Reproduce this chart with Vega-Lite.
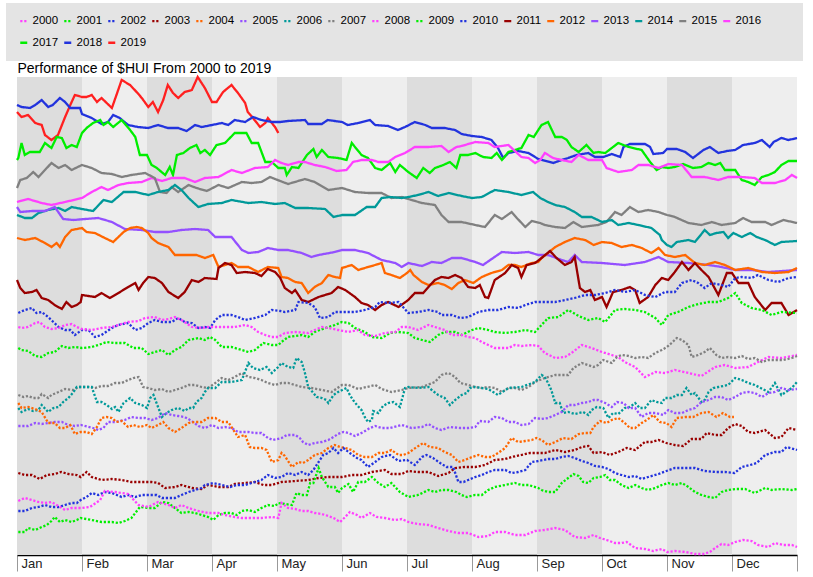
{
"$schema":"https://vega.github.io/schema/vega-lite/v6.json",
"width":780,"height":478,
"autosize":{"type":"none"},
"padding":{"left":17,"top":77,"right":16,"bottom":22},
"background":"white",
"config":{"font":"Liberation Sans","view":{"fill":"#eeeeee","stroke":null}},
"resolve":{"axis":{"x":"independent"}},
"layer":[
{"data":{"values":[{"a":0,"b":1},{"a":2,"b":3},{"a":4,"b":5},{"a":6,"b":7},{"a":8,"b":9},{"a":10,"b":11}]},
"mark":{"type":"rect","fill":"#dddddd"},
"encoding":{"x":{"field":"a","type":"quantitative","scale":{"domain":[0,12],"nice":false,"zero":false},
"axis":{"orient":"top","title":"Performance of $HUI From 2000 to 2019","labels":false,"ticks":false,"domain":false,"grid":false,"titleAnchor":"start","titleAlign":"left","titleBaseline":"alphabetic","titleFontSize":14,"titleFontWeight":"normal","titleColor":"#000000","titleFont":"Liberation Sans","titlePadding":5}},
"x2":{"field":"b"}}},
{"data":{"values":[
{"s":2019,"m":0,"v":443},{"s":2019,"m":0.07,"v":438},{"s":2019,"m":0.17,"v":440},{"s":2019,"m":0.28,"v":432},{"s":2019,"m":0.38,"v":430},{"s":2019,"m":0.43,"v":420},{"s":2019,"m":0.53,"v":415},{"s":2019,"m":0.63,"v":420},{"s":2019,"m":0.74,"v":438},{"s":2019,"m":0.82,"v":450},{"s":2019,"m":0.89,"v":460},{"s":2019,"m":1.0,"v":458},{"s":2019,"m":1.07,"v":458},{"s":2019,"m":1.15,"v":460},{"s":2019,"m":1.23,"v":453},{"s":2019,"m":1.3,"v":457},{"s":2019,"m":1.46,"v":447},{"s":2019,"m":1.53,"v":460},{"s":2019,"m":1.61,"v":475},{"s":2019,"m":1.74,"v":470},{"s":2019,"m":1.84,"v":463},{"s":2019,"m":1.92,"v":457},{"s":2019,"m":2.02,"v":448},{"s":2019,"m":2.09,"v":453},{"s":2019,"m":2.17,"v":443},{"s":2019,"m":2.25,"v":455},{"s":2019,"m":2.32,"v":470},{"s":2019,"m":2.4,"v":462},{"s":2019,"m":2.48,"v":457},{"s":2019,"m":2.58,"v":463},{"s":2019,"m":2.69,"v":465},{"s":2019,"m":2.78,"v":478},{"s":2019,"m":2.89,"v":467},{"s":2019,"m":3.0,"v":453},{"s":2019,"m":3.07,"v":453},{"s":2019,"m":3.17,"v":463},{"s":2019,"m":3.3,"v":470},{"s":2019,"m":3.4,"v":462},{"s":2019,"m":3.51,"v":452},{"s":2019,"m":3.55,"v":443},{"s":2019,"m":3.63,"v":437},{"s":2019,"m":3.74,"v":428},{"s":2019,"m":3.82,"v":432},{"s":2019,"m":3.86,"v":437},{"s":2019,"m":3.92,"v":432},{"s":2019,"m":3.97,"v":428},{"s":2019,"m":4.02,"v":422},
{"s":2018,"m":0,"v":450},{"s":2018,"m":0.07,"v":448},{"s":2018,"m":0.2,"v":447},{"s":2018,"m":0.28,"v":450},{"s":2018,"m":0.38,"v":455},{"s":2018,"m":0.48,"v":448},{"s":2018,"m":0.55,"v":450},{"s":2018,"m":0.66,"v":457},{"s":2018,"m":0.74,"v":453},{"s":2018,"m":0.82,"v":447},{"s":2018,"m":0.97,"v":447},{"s":2018,"m":1.0,"v":441},{"s":2018,"m":1.15,"v":437},{"s":2018,"m":1.3,"v":431},{"s":2018,"m":1.4,"v":433},{"s":2018,"m":1.48,"v":440},{"s":2018,"m":1.58,"v":437},{"s":2018,"m":1.71,"v":430},{"s":2018,"m":1.86,"v":428},{"s":2018,"m":2.02,"v":427},{"s":2018,"m":2.17,"v":430},{"s":2018,"m":2.32,"v":427},{"s":2018,"m":2.48,"v":427},{"s":2018,"m":2.61,"v":424},{"s":2018,"m":2.74,"v":430},{"s":2018,"m":2.84,"v":428},{"s":2018,"m":3.0,"v":430},{"s":2018,"m":3.15,"v":432},{"s":2018,"m":3.25,"v":430},{"s":2018,"m":3.35,"v":435},{"s":2018,"m":3.51,"v":433},{"s":2018,"m":3.63,"v":438},{"s":2018,"m":3.76,"v":435},{"s":2018,"m":3.92,"v":433},{"s":2018,"m":4.05,"v":433},{"s":2018,"m":4.17,"v":434},{"s":2018,"m":4.43,"v":435},{"s":2018,"m":4.48,"v":431},{"s":2018,"m":4.69,"v":431},{"s":2018,"m":4.78,"v":435},{"s":2018,"m":5.0,"v":433},{"s":2018,"m":5.09,"v":430},{"s":2018,"m":5.25,"v":432},{"s":2018,"m":5.43,"v":435},{"s":2018,"m":5.51,"v":430},{"s":2018,"m":5.71,"v":429},{"s":2018,"m":5.86,"v":425},{"s":2018,"m":5.97,"v":428},{"s":2018,"m":6.12,"v":433},{"s":2018,"m":6.28,"v":430},{"s":2018,"m":6.38,"v":427},{"s":2018,"m":6.58,"v":427},{"s":2018,"m":6.74,"v":425},{"s":2018,"m":6.84,"v":421},{"s":2018,"m":7.0,"v":419},{"s":2018,"m":7.15,"v":418},{"s":2018,"m":7.3,"v":415},{"s":2018,"m":7.4,"v":407},{"s":2018,"m":7.48,"v":397},{"s":2018,"m":7.56,"v":402},{"s":2018,"m":7.71,"v":404},{"s":2018,"m":7.87,"v":402},{"s":2018,"m":8.02,"v":396},{"s":2018,"m":8.25,"v":392},{"s":2018,"m":8.38,"v":395},{"s":2018,"m":8.48,"v":397},{"s":2018,"m":8.61,"v":400},{"s":2018,"m":8.79,"v":402},{"s":2018,"m":8.89,"v":398},{"s":2018,"m":9.02,"v":398},{"s":2018,"m":9.15,"v":401},{"s":2018,"m":9.28,"v":398},{"s":2018,"m":9.33,"v":408},{"s":2018,"m":9.43,"v":411},{"s":2018,"m":9.66,"v":411},{"s":2018,"m":9.74,"v":408},{"s":2018,"m":9.79,"v":401},{"s":2018,"m":9.94,"v":402},{"s":2018,"m":10.0,"v":406},{"s":2018,"m":10.15,"v":406},{"s":2018,"m":10.28,"v":403},{"s":2018,"m":10.4,"v":397},{"s":2018,"m":10.56,"v":405},{"s":2018,"m":10.66,"v":408},{"s":2018,"m":10.79,"v":402},{"s":2018,"m":10.92,"v":404},{"s":2018,"m":11.05,"v":405},{"s":2018,"m":11.17,"v":410},{"s":2018,"m":11.35,"v":412},{"s":2018,"m":11.46,"v":415},{"s":2018,"m":11.58,"v":408},{"s":2018,"m":11.64,"v":413},{"s":2018,"m":11.76,"v":417},{"s":2018,"m":11.87,"v":415},{"s":2018,"m":12.0,"v":417},
{"s":2017,"m":0,"v":395},{"s":2017,"m":0.02,"v":397},{"s":2017,"m":0.07,"v":412},{"s":2017,"m":0.12,"v":400},{"s":2017,"m":0.2,"v":403},{"s":2017,"m":0.35,"v":403},{"s":2017,"m":0.43,"v":412},{"s":2017,"m":0.53,"v":407},{"s":2017,"m":0.61,"v":418},{"s":2017,"m":0.69,"v":417},{"s":2017,"m":0.76,"v":407},{"s":2017,"m":0.84,"v":410},{"s":2017,"m":0.92,"v":408},{"s":2017,"m":1.0,"v":422},{"s":2017,"m":1.07,"v":427},{"s":2017,"m":1.17,"v":432},{"s":2017,"m":1.28,"v":435},{"s":2017,"m":1.33,"v":430},{"s":2017,"m":1.4,"v":433},{"s":2017,"m":1.48,"v":428},{"s":2017,"m":1.61,"v":435},{"s":2017,"m":1.74,"v":425},{"s":2017,"m":1.82,"v":418},{"s":2017,"m":1.89,"v":400},{"s":2017,"m":2.0,"v":400},{"s":2017,"m":2.07,"v":390},{"s":2017,"m":2.15,"v":387},{"s":2017,"m":2.28,"v":380},{"s":2017,"m":2.35,"v":388},{"s":2017,"m":2.4,"v":380},{"s":2017,"m":2.46,"v":400},{"s":2017,"m":2.56,"v":402},{"s":2017,"m":2.66,"v":407},{"s":2017,"m":2.76,"v":410},{"s":2017,"m":2.82,"v":402},{"s":2017,"m":2.89,"v":405},{"s":2017,"m":2.97,"v":400},{"s":2017,"m":3.07,"v":410},{"s":2017,"m":3.2,"v":412},{"s":2017,"m":3.35,"v":422},{"s":2017,"m":3.53,"v":422},{"s":2017,"m":3.61,"v":412},{"s":2017,"m":3.71,"v":412},{"s":2017,"m":3.82,"v":393},{"s":2017,"m":3.92,"v":393},{"s":2017,"m":4.02,"v":387},{"s":2017,"m":4.12,"v":387},{"s":2017,"m":4.15,"v":380},{"s":2017,"m":4.23,"v":388},{"s":2017,"m":4.33,"v":387},{"s":2017,"m":4.46,"v":400},{"s":2017,"m":4.56,"v":406},{"s":2017,"m":4.61,"v":398},{"s":2017,"m":4.69,"v":405},{"s":2017,"m":4.79,"v":398},{"s":2017,"m":4.94,"v":397},{"s":2017,"m":5.07,"v":395},{"s":2017,"m":5.15,"v":412},{"s":2017,"m":5.3,"v":400},{"s":2017,"m":5.4,"v":397},{"s":2017,"m":5.51,"v":387},{"s":2017,"m":5.61,"v":385},{"s":2017,"m":5.74,"v":392},{"s":2017,"m":5.82,"v":383},{"s":2017,"m":5.89,"v":390},{"s":2017,"m":6.02,"v":383},{"s":2017,"m":6.15,"v":377},{"s":2017,"m":6.25,"v":387},{"s":2017,"m":6.35,"v":382},{"s":2017,"m":6.43,"v":387},{"s":2017,"m":6.56,"v":390},{"s":2017,"m":6.66,"v":393},{"s":2017,"m":6.76,"v":387},{"s":2017,"m":6.82,"v":400},{"s":2017,"m":6.94,"v":400},{"s":2017,"m":7.05,"v":402},{"s":2017,"m":7.17,"v":398},{"s":2017,"m":7.3,"v":397},{"s":2017,"m":7.38,"v":402},{"s":2017,"m":7.46,"v":395},{"s":2017,"m":7.56,"v":403},{"s":2017,"m":7.76,"v":407},{"s":2017,"m":7.87,"v":420},{"s":2017,"m":7.95,"v":418},{"s":2017,"m":8.07,"v":430},{"s":2017,"m":8.17,"v":433},{"s":2017,"m":8.28,"v":418},{"s":2017,"m":8.38,"v":418},{"s":2017,"m":8.46,"v":415},{"s":2017,"m":8.53,"v":408},{"s":2017,"m":8.64,"v":403},{"s":2017,"m":8.76,"v":410},{"s":2017,"m":8.87,"v":402},{"s":2017,"m":8.94,"v":403},{"s":2017,"m":9.05,"v":402},{"s":2017,"m":9.25,"v":412},{"s":2017,"m":9.41,"v":408},{"s":2017,"m":9.61,"v":405},{"s":2017,"m":9.74,"v":393},{"s":2017,"m":9.84,"v":385},{"s":2017,"m":9.92,"v":388},{"s":2017,"m":10.02,"v":387},{"s":2017,"m":10.12,"v":388},{"s":2017,"m":10.25,"v":391},{"s":2017,"m":10.4,"v":387},{"s":2017,"m":10.53,"v":388},{"s":2017,"m":10.64,"v":392},{"s":2017,"m":10.74,"v":390},{"s":2017,"m":10.82,"v":392},{"s":2017,"m":10.89,"v":385},{"s":2017,"m":11.05,"v":385},{"s":2017,"m":11.15,"v":375},{"s":2017,"m":11.25,"v":373},{"s":2017,"m":11.35,"v":370},{"s":2017,"m":11.46,"v":378},{"s":2017,"m":11.56,"v":380},{"s":2017,"m":11.66,"v":383},{"s":2017,"m":11.76,"v":390},{"s":2017,"m":11.87,"v":394},{"s":2017,"m":12.0,"v":394},
{"s":2016,"m":0,"v":353},{"s":2016,"m":0.17,"v":356},{"s":2016,"m":0.38,"v":352},{"s":2016,"m":0.53,"v":350},{"s":2016,"m":0.74,"v":353},{"s":2016,"m":1.0,"v":357},{"s":2016,"m":1.15,"v":363},{"s":2016,"m":1.3,"v":368},{"s":2016,"m":1.4,"v":365},{"s":2016,"m":1.56,"v":370},{"s":2016,"m":1.71,"v":372},{"s":2016,"m":1.92,"v":373},{"s":2016,"m":2.07,"v":377},{"s":2016,"m":2.23,"v":374},{"s":2016,"m":2.38,"v":377},{"s":2016,"m":2.58,"v":377},{"s":2016,"m":2.74,"v":373},{"s":2016,"m":2.89,"v":377},{"s":2016,"m":3.1,"v":378},{"s":2016,"m":3.3,"v":385},{"s":2016,"m":3.46,"v":382},{"s":2016,"m":3.66,"v":387},{"s":2016,"m":3.86,"v":388},{"s":2016,"m":3.97,"v":395},{"s":2016,"m":4.07,"v":392},{"s":2016,"m":4.17,"v":390},{"s":2016,"m":4.33,"v":393},{"s":2016,"m":4.43,"v":393},{"s":2016,"m":4.58,"v":390},{"s":2016,"m":4.74,"v":388},{"s":2016,"m":4.92,"v":384},{"s":2016,"m":5.07,"v":385},{"s":2016,"m":5.17,"v":393},{"s":2016,"m":5.3,"v":395},{"s":2016,"m":5.46,"v":395},{"s":2016,"m":5.56,"v":393},{"s":2016,"m":5.71,"v":393},{"s":2016,"m":5.82,"v":398},{"s":2016,"m":5.97,"v":402},{"s":2016,"m":6.12,"v":408},{"s":2016,"m":6.33,"v":408},{"s":2016,"m":6.53,"v":409},{"s":2016,"m":6.64,"v":403},{"s":2016,"m":6.76,"v":408},{"s":2016,"m":6.84,"v":409},{"s":2016,"m":7.05,"v":413},{"s":2016,"m":7.25,"v":412},{"s":2016,"m":7.35,"v":408},{"s":2016,"m":7.56,"v":410},{"s":2016,"m":7.76,"v":398},{"s":2016,"m":7.87,"v":397},{"s":2016,"m":7.97,"v":392},{"s":2016,"m":8.05,"v":395},{"s":2016,"m":8.12,"v":402},{"s":2016,"m":8.25,"v":397},{"s":2016,"m":8.38,"v":395},{"s":2016,"m":8.53,"v":393},{"s":2016,"m":8.64,"v":400},{"s":2016,"m":8.79,"v":395},{"s":2016,"m":9.0,"v":395},{"s":2016,"m":9.07,"v":387},{"s":2016,"m":9.25,"v":383},{"s":2016,"m":9.46,"v":385},{"s":2016,"m":9.56,"v":390},{"s":2016,"m":9.71,"v":390},{"s":2016,"m":9.87,"v":387},{"s":2016,"m":10.02,"v":391},{"s":2016,"m":10.23,"v":390},{"s":2016,"m":10.38,"v":378},{"s":2016,"m":10.58,"v":378},{"s":2016,"m":10.79,"v":375},{"s":2016,"m":10.94,"v":378},{"s":2016,"m":11.15,"v":378},{"s":2016,"m":11.35,"v":377},{"s":2016,"m":11.46,"v":372},{"s":2016,"m":11.66,"v":372},{"s":2016,"m":11.82,"v":375},{"s":2016,"m":11.92,"v":380},{"s":2016,"m":12.0,"v":377},
{"s":2015,"m":0,"v":367},{"s":2015,"m":0.05,"v":375},{"s":2015,"m":0.15,"v":377},{"s":2015,"m":0.25,"v":383},{"s":2015,"m":0.33,"v":378},{"s":2015,"m":0.43,"v":385},{"s":2015,"m":0.53,"v":392},{"s":2015,"m":0.64,"v":387},{"s":2015,"m":0.74,"v":390},{"s":2015,"m":0.84,"v":385},{"s":2015,"m":1.0,"v":390},{"s":2015,"m":1.15,"v":387},{"s":2015,"m":1.3,"v":382},{"s":2015,"m":1.46,"v":381},{"s":2015,"m":1.61,"v":378},{"s":2015,"m":1.76,"v":380},{"s":2015,"m":1.97,"v":382},{"s":2015,"m":2.12,"v":377},{"s":2015,"m":2.2,"v":363},{"s":2015,"m":2.3,"v":362},{"s":2015,"m":2.38,"v":368},{"s":2015,"m":2.48,"v":363},{"s":2015,"m":2.64,"v":370},{"s":2015,"m":2.76,"v":367},{"s":2015,"m":2.92,"v":364},{"s":2015,"m":3.1,"v":370},{"s":2015,"m":3.25,"v":367},{"s":2015,"m":3.46,"v":373},{"s":2015,"m":3.61,"v":372},{"s":2015,"m":3.76,"v":373},{"s":2015,"m":3.89,"v":378},{"s":2015,"m":4.05,"v":374},{"s":2015,"m":4.17,"v":371},{"s":2015,"m":4.43,"v":376},{"s":2015,"m":4.58,"v":373},{"s":2015,"m":4.79,"v":365},{"s":2015,"m":5.0,"v":367},{"s":2015,"m":5.2,"v":363},{"s":2015,"m":5.4,"v":362},{"s":2015,"m":5.61,"v":362},{"s":2015,"m":5.76,"v":357},{"s":2015,"m":5.92,"v":358},{"s":2015,"m":6.07,"v":355},{"s":2015,"m":6.23,"v":352},{"s":2015,"m":6.43,"v":350},{"s":2015,"m":6.53,"v":340},{"s":2015,"m":6.64,"v":333},{"s":2015,"m":6.84,"v":333},{"s":2015,"m":7.05,"v":330},{"s":2015,"m":7.2,"v":328},{"s":2015,"m":7.35,"v":340},{"s":2015,"m":7.46,"v":336},{"s":2015,"m":7.61,"v":343},{"s":2015,"m":7.69,"v":337},{"s":2015,"m":7.82,"v":328},{"s":2015,"m":7.92,"v":334},{"s":2015,"m":8.05,"v":332},{"s":2015,"m":8.12,"v":330},{"s":2015,"m":8.28,"v":328},{"s":2015,"m":8.43,"v":327},{"s":2015,"m":8.56,"v":333},{"s":2015,"m":8.69,"v":328},{"s":2015,"m":8.94,"v":330},{"s":2015,"m":9.07,"v":333},{"s":2015,"m":9.2,"v":343},{"s":2015,"m":9.3,"v":340},{"s":2015,"m":9.43,"v":348},{"s":2015,"m":9.56,"v":343},{"s":2015,"m":9.71,"v":345},{"s":2015,"m":9.87,"v":343},{"s":2015,"m":10.0,"v":340},{"s":2015,"m":10.12,"v":338},{"s":2015,"m":10.33,"v":332},{"s":2015,"m":10.53,"v":330},{"s":2015,"m":10.69,"v":333},{"s":2015,"m":10.84,"v":330},{"s":2015,"m":11.05,"v":332},{"s":2015,"m":11.17,"v":337},{"s":2015,"m":11.3,"v":333},{"s":2015,"m":11.51,"v":333},{"s":2015,"m":11.61,"v":330},{"s":2015,"m":11.79,"v":335},{"s":2015,"m":12.0,"v":332},
{"s":2014,"m":0,"v":340},{"s":2014,"m":0.12,"v":337},{"s":2014,"m":0.23,"v":337},{"s":2014,"m":0.33,"v":342},{"s":2014,"m":0.48,"v":345},{"s":2014,"m":0.64,"v":347},{"s":2014,"m":0.74,"v":344},{"s":2014,"m":0.84,"v":348},{"s":2014,"m":1.0,"v":346},{"s":2014,"m":1.17,"v":344},{"s":2014,"m":1.33,"v":355},{"s":2014,"m":1.46,"v":353},{"s":2014,"m":1.64,"v":363},{"s":2014,"m":1.82,"v":363},{"s":2014,"m":2.02,"v":360},{"s":2014,"m":2.17,"v":363},{"s":2014,"m":2.33,"v":365},{"s":2014,"m":2.43,"v":370},{"s":2014,"m":2.53,"v":365},{"s":2014,"m":2.64,"v":357},{"s":2014,"m":2.79,"v":348},{"s":2014,"m":2.94,"v":351},{"s":2014,"m":3.15,"v":352},{"s":2014,"m":3.3,"v":355},{"s":2014,"m":3.56,"v":352},{"s":2014,"m":3.76,"v":353},{"s":2014,"m":3.97,"v":351},{"s":2014,"m":4.12,"v":352},{"s":2014,"m":4.28,"v":347},{"s":2014,"m":4.48,"v":347},{"s":2014,"m":4.74,"v":346},{"s":2014,"m":4.87,"v":338},{"s":2014,"m":5.0,"v":340},{"s":2014,"m":5.2,"v":340},{"s":2014,"m":5.38,"v":348},{"s":2014,"m":5.51,"v":348},{"s":2014,"m":5.61,"v":357},{"s":2014,"m":5.74,"v":358},{"s":2014,"m":5.92,"v":357},{"s":2014,"m":6.02,"v":358},{"s":2014,"m":6.17,"v":360},{"s":2014,"m":6.33,"v":363},{"s":2014,"m":6.48,"v":359},{"s":2014,"m":6.64,"v":362},{"s":2014,"m":6.84,"v":359},{"s":2014,"m":7.0,"v":357},{"s":2014,"m":7.15,"v":358},{"s":2014,"m":7.35,"v":365},{"s":2014,"m":7.56,"v":363},{"s":2014,"m":7.76,"v":360},{"s":2014,"m":7.94,"v":363},{"s":2014,"m":8.05,"v":357},{"s":2014,"m":8.17,"v":353},{"s":2014,"m":8.28,"v":350},{"s":2014,"m":8.43,"v":348},{"s":2014,"m":8.58,"v":343},{"s":2014,"m":8.69,"v":338},{"s":2014,"m":8.84,"v":338},{"s":2014,"m":9.0,"v":333},{"s":2014,"m":9.15,"v":335},{"s":2014,"m":9.25,"v":330},{"s":2014,"m":9.41,"v":332},{"s":2014,"m":9.56,"v":330},{"s":2014,"m":9.76,"v":327},{"s":2014,"m":9.89,"v":320},{"s":2014,"m":9.92,"v":315},{"s":2014,"m":10.0,"v":310},{"s":2014,"m":10.07,"v":308},{"s":2014,"m":10.15,"v":313},{"s":2014,"m":10.33,"v":315},{"s":2014,"m":10.43,"v":313},{"s":2014,"m":10.58,"v":325},{"s":2014,"m":10.66,"v":320},{"s":2014,"m":10.76,"v":322},{"s":2014,"m":10.87,"v":323},{"s":2014,"m":10.94,"v":317},{"s":2014,"m":11.02,"v":322},{"s":2014,"m":11.15,"v":318},{"s":2014,"m":11.28,"v":322},{"s":2014,"m":11.38,"v":318},{"s":2014,"m":11.51,"v":315},{"s":2014,"m":11.66,"v":310},{"s":2014,"m":11.76,"v":313},{"s":2014,"m":12.0,"v":314},
{"s":2013,"m":0,"v":348},{"s":2013,"m":0.05,"v":343},{"s":2013,"m":0.23,"v":344},{"s":2013,"m":0.43,"v":344},{"s":2013,"m":0.58,"v":348},{"s":2013,"m":0.71,"v":336},{"s":2013,"m":0.87,"v":335},{"s":2013,"m":1.05,"v":336},{"s":2013,"m":1.25,"v":337},{"s":2013,"m":1.46,"v":333},{"s":2013,"m":1.66,"v":326},{"s":2013,"m":1.92,"v":325},{"s":2013,"m":2.12,"v":323},{"s":2013,"m":2.33,"v":323},{"s":2013,"m":2.53,"v":325},{"s":2013,"m":2.74,"v":326},{"s":2013,"m":2.94,"v":325},{"s":2013,"m":3.05,"v":318},{"s":2013,"m":3.3,"v":318},{"s":2013,"m":3.46,"v":305},{"s":2013,"m":3.56,"v":302},{"s":2013,"m":3.71,"v":303},{"s":2013,"m":3.86,"v":307},{"s":2013,"m":4.02,"v":305},{"s":2013,"m":4.17,"v":305},{"s":2013,"m":4.38,"v":302},{"s":2013,"m":4.53,"v":298},{"s":2013,"m":4.64,"v":300},{"s":2013,"m":4.89,"v":303},{"s":2013,"m":5.0,"v":305},{"s":2013,"m":5.2,"v":305},{"s":2013,"m":5.4,"v":302},{"s":2013,"m":5.61,"v":295},{"s":2013,"m":5.82,"v":292},{"s":2013,"m":5.92,"v":288},{"s":2013,"m":6.02,"v":292},{"s":2013,"m":6.23,"v":289},{"s":2013,"m":6.38,"v":293},{"s":2013,"m":6.53,"v":292},{"s":2013,"m":6.69,"v":297},{"s":2013,"m":6.84,"v":297},{"s":2013,"m":7.05,"v":293},{"s":2013,"m":7.17,"v":290},{"s":2013,"m":7.28,"v":295},{"s":2013,"m":7.46,"v":303},{"s":2013,"m":7.66,"v":302},{"s":2013,"m":7.87,"v":303},{"s":2013,"m":8.02,"v":300},{"s":2013,"m":8.17,"v":300},{"s":2013,"m":8.38,"v":295},{"s":2013,"m":8.48,"v":293},{"s":2013,"m":8.58,"v":300},{"s":2013,"m":8.69,"v":293},{"s":2013,"m":9.0,"v":292},{"s":2013,"m":9.35,"v":290},{"s":2013,"m":9.66,"v":293},{"s":2013,"m":9.87,"v":298},{"s":2013,"m":10.02,"v":293},{"s":2013,"m":10.33,"v":292},{"s":2013,"m":10.64,"v":290},{"s":2013,"m":10.84,"v":288},{"s":2013,"m":11.05,"v":285},{"s":2013,"m":11.3,"v":285},{"s":2013,"m":11.56,"v":283},{"s":2013,"m":12.0,"v":285},
{"s":2012,"m":0,"v":317},{"s":2012,"m":0.12,"v":315},{"s":2012,"m":0.28,"v":317},{"s":2012,"m":0.43,"v":312},{"s":2012,"m":0.53,"v":308},{"s":2012,"m":0.61,"v":312},{"s":2012,"m":0.66,"v":308},{"s":2012,"m":0.74,"v":318},{"s":2012,"m":0.84,"v":325},{"s":2012,"m":1.0,"v":327},{"s":2012,"m":1.07,"v":323},{"s":2012,"m":1.2,"v":322},{"s":2012,"m":1.35,"v":317},{"s":2012,"m":1.48,"v":313},{"s":2012,"m":1.56,"v":318},{"s":2012,"m":1.64,"v":323},{"s":2012,"m":1.74,"v":327},{"s":2012,"m":1.84,"v":328},{"s":2012,"m":1.92,"v":327},{"s":2012,"m":2.02,"v":322},{"s":2012,"m":2.07,"v":317},{"s":2012,"m":2.17,"v":312},{"s":2012,"m":2.33,"v":308},{"s":2012,"m":2.43,"v":300},{"s":2012,"m":2.58,"v":300},{"s":2012,"m":2.76,"v":300},{"s":2012,"m":2.89,"v":297},{"s":2012,"m":3.02,"v":300},{"s":2012,"m":3.1,"v":288},{"s":2012,"m":3.2,"v":290},{"s":2012,"m":3.3,"v":292},{"s":2012,"m":3.4,"v":288},{"s":2012,"m":3.56,"v":288},{"s":2012,"m":3.71,"v":283},{"s":2012,"m":3.86,"v":288},{"s":2012,"m":4.02,"v":287},{"s":2012,"m":4.07,"v":278},{"s":2012,"m":4.17,"v":277},{"s":2012,"m":4.28,"v":273},{"s":2012,"m":4.38,"v":272},{"s":2012,"m":4.48,"v":262},{"s":2012,"m":4.58,"v":268},{"s":2012,"m":4.69,"v":272},{"s":2012,"m":4.79,"v":280},{"s":2012,"m":4.89,"v":278},{"s":2012,"m":4.97,"v":277},{"s":2012,"m":5.0,"v":287},{"s":2012,"m":5.15,"v":290},{"s":2012,"m":5.25,"v":285},{"s":2012,"m":5.35,"v":287},{"s":2012,"m":5.51,"v":290},{"s":2012,"m":5.61,"v":292},{"s":2012,"m":5.66,"v":282},{"s":2012,"m":5.76,"v":280},{"s":2012,"m":5.89,"v":277},{"s":2012,"m":6.0,"v":282},{"s":2012,"m":6.05,"v":285},{"s":2012,"m":6.1,"v":280},{"s":2012,"m":6.23,"v":273},{"s":2012,"m":6.33,"v":270},{"s":2012,"m":6.48,"v":272},{"s":2012,"m":6.58,"v":270},{"s":2012,"m":6.69,"v":266},{"s":2012,"m":6.79,"v":272},{"s":2012,"m":6.89,"v":275},{"s":2012,"m":7.02,"v":272},{"s":2012,"m":7.15,"v":278},{"s":2012,"m":7.3,"v":282},{"s":2012,"m":7.46,"v":285},{"s":2012,"m":7.56,"v":290},{"s":2012,"m":7.66,"v":290},{"s":2012,"m":7.76,"v":288},{"s":2012,"m":7.92,"v":292},{"s":2012,"m":8.02,"v":293},{"s":2012,"m":8.07,"v":297},{"s":2012,"m":8.17,"v":302},{"s":2012,"m":8.28,"v":308},{"s":2012,"m":8.43,"v":313},{"s":2012,"m":8.58,"v":317},{"s":2012,"m":8.74,"v":315},{"s":2012,"m":8.87,"v":310},{"s":2012,"m":9.0,"v":313},{"s":2012,"m":9.15,"v":312},{"s":2012,"m":9.3,"v":308},{"s":2012,"m":9.46,"v":310},{"s":2012,"m":9.61,"v":307},{"s":2012,"m":9.76,"v":302},{"s":2012,"m":9.87,"v":307},{"s":2012,"m":9.97,"v":300},{"s":2012,"m":10.12,"v":298},{"s":2012,"m":10.28,"v":300},{"s":2012,"m":10.43,"v":292},{"s":2012,"m":10.58,"v":290},{"s":2012,"m":10.74,"v":293},{"s":2012,"m":10.89,"v":290},{"s":2012,"m":11.05,"v":285},{"s":2012,"m":11.25,"v":287},{"s":2012,"m":11.46,"v":283},{"s":2012,"m":11.66,"v":282},{"s":2012,"m":11.87,"v":283},{"s":2012,"m":12.0,"v":287},
{"s":2011,"m":0,"v":275},{"s":2011,"m":0.05,"v":267},{"s":2011,"m":0.12,"v":262},{"s":2011,"m":0.23,"v":263},{"s":2011,"m":0.3,"v":265},{"s":2011,"m":0.38,"v":257},{"s":2011,"m":0.48,"v":255},{"s":2011,"m":0.58,"v":250},{"s":2011,"m":0.69,"v":246},{"s":2011,"m":0.76,"v":253},{"s":2011,"m":0.84,"v":248},{"s":2011,"m":0.92,"v":250},{"s":2011,"m":0.98,"v":253},{"s":2011,"m":1.0,"v":260},{"s":2011,"m":1.2,"v":258},{"s":2011,"m":1.3,"v":262},{"s":2011,"m":1.43,"v":257},{"s":2011,"m":1.56,"v":262},{"s":2011,"m":1.71,"v":268},{"s":2011,"m":1.82,"v":272},{"s":2011,"m":1.87,"v":265},{"s":2011,"m":1.94,"v":272},{"s":2011,"m":2.02,"v":278},{"s":2011,"m":2.12,"v":277},{"s":2011,"m":2.23,"v":272},{"s":2011,"m":2.33,"v":263},{"s":2011,"m":2.48,"v":257},{"s":2011,"m":2.58,"v":263},{"s":2011,"m":2.69,"v":275},{"s":2011,"m":2.79,"v":273},{"s":2011,"m":2.89,"v":277},{"s":2011,"m":3.07,"v":276},{"s":2011,"m":3.1,"v":287},{"s":2011,"m":3.2,"v":292},{"s":2011,"m":3.3,"v":290},{"s":2011,"m":3.38,"v":282},{"s":2011,"m":3.51,"v":283},{"s":2011,"m":3.66,"v":282},{"s":2011,"m":3.76,"v":279},{"s":2011,"m":3.86,"v":286},{"s":2011,"m":3.97,"v":283},{"s":2011,"m":4.05,"v":277},{"s":2011,"m":4.12,"v":267},{"s":2011,"m":4.23,"v":262},{"s":2011,"m":4.28,"v":265},{"s":2011,"m":4.38,"v":255},{"s":2011,"m":4.48,"v":253},{"s":2011,"m":4.64,"v":258},{"s":2011,"m":4.84,"v":262},{"s":2011,"m":4.94,"v":268},{"s":2011,"m":5.05,"v":265},{"s":2011,"m":5.2,"v":258},{"s":2011,"m":5.3,"v":252},{"s":2011,"m":5.4,"v":250},{"s":2011,"m":5.51,"v":245},{"s":2011,"m":5.61,"v":250},{"s":2011,"m":5.71,"v":253},{"s":2011,"m":5.87,"v":248},{"s":2011,"m":6.02,"v":255},{"s":2011,"m":6.12,"v":262},{"s":2011,"m":6.25,"v":262},{"s":2011,"m":6.33,"v":268},{"s":2011,"m":6.43,"v":275},{"s":2011,"m":6.53,"v":278},{"s":2011,"m":6.64,"v":277},{"s":2011,"m":6.74,"v":280},{"s":2011,"m":6.84,"v":277},{"s":2011,"m":6.94,"v":268},{"s":2011,"m":7.05,"v":267},{"s":2011,"m":7.12,"v":270},{"s":2011,"m":7.2,"v":258},{"s":2011,"m":7.25,"v":257},{"s":2011,"m":7.35,"v":275},{"s":2011,"m":7.51,"v":282},{"s":2011,"m":7.61,"v":290},{"s":2011,"m":7.71,"v":287},{"s":2011,"m":7.76,"v":278},{"s":2011,"m":7.84,"v":290},{"s":2011,"m":7.97,"v":292},{"s":2011,"m":8.07,"v":297},{"s":2011,"m":8.2,"v":304},{"s":2011,"m":8.3,"v":297},{"s":2011,"m":8.43,"v":290},{"s":2011,"m":8.53,"v":293},{"s":2011,"m":8.58,"v":298},{"s":2011,"m":8.66,"v":267},{"s":2011,"m":8.74,"v":263},{"s":2011,"m":8.82,"v":265},{"s":2011,"m":8.89,"v":255},{"s":2011,"m":9.0,"v":258},{"s":2011,"m":9.07,"v":248},{"s":2011,"m":9.17,"v":263},{"s":2011,"m":9.3,"v":265},{"s":2011,"m":9.43,"v":268},{"s":2011,"m":9.51,"v":265},{"s":2011,"m":9.58,"v":252},{"s":2011,"m":9.71,"v":258},{"s":2011,"m":9.82,"v":270},{"s":2011,"m":9.92,"v":277},{"s":2011,"m":10.02,"v":275},{"s":2011,"m":10.12,"v":283},{"s":2011,"m":10.23,"v":293},{"s":2011,"m":10.33,"v":285},{"s":2011,"m":10.43,"v":292},{"s":2011,"m":10.53,"v":285},{"s":2011,"m":10.64,"v":278},{"s":2011,"m":10.79,"v":260},{"s":2011,"m":10.92,"v":282},{"s":2011,"m":11.0,"v":282},{"s":2011,"m":11.1,"v":272},{"s":2011,"m":11.25,"v":272},{"s":2011,"m":11.35,"v":258},{"s":2011,"m":11.51,"v":245},{"s":2011,"m":11.61,"v":252},{"s":2011,"m":11.76,"v":252},{"s":2011,"m":11.87,"v":240},{"s":2011,"m":12.0,"v":245},
{"s":2010,"m":0.02,"v":242},{"s":2010,"m":0.12,"v":245},{"s":2010,"m":0.23,"v":247},{"s":2010,"m":0.3,"v":242},{"s":2010,"m":0.38,"v":243},{"s":2010,"m":0.48,"v":238},{"s":2010,"m":0.56,"v":233},{"s":2010,"m":0.64,"v":228},{"s":2010,"m":0.74,"v":225},{"s":2010,"m":0.82,"v":225},{"s":2010,"m":0.89,"v":220},{"s":2010,"m":1.0,"v":225},{"s":2010,"m":1.1,"v":225},{"s":2010,"m":1.2,"v":218},{"s":2010,"m":1.3,"v":220},{"s":2010,"m":1.46,"v":227},{"s":2010,"m":1.56,"v":230},{"s":2010,"m":1.71,"v":232},{"s":2010,"m":1.82,"v":225},{"s":2010,"m":1.92,"v":227},{"s":2010,"m":2.02,"v":232},{"s":2010,"m":2.12,"v":235},{"s":2010,"m":2.23,"v":233},{"s":2010,"m":2.38,"v":233},{"s":2010,"m":2.48,"v":237},{"s":2010,"m":2.58,"v":233},{"s":2010,"m":2.69,"v":232},{"s":2010,"m":2.79,"v":227},{"s":2010,"m":2.89,"v":228},{"s":2010,"m":2.97,"v":227},{"s":2010,"m":3.05,"v":235},{"s":2010,"m":3.15,"v":240},{"s":2010,"m":3.3,"v":240},{"s":2010,"m":3.4,"v":238},{"s":2010,"m":3.51,"v":235},{"s":2010,"m":3.66,"v":237},{"s":2010,"m":3.82,"v":240},{"s":2010,"m":3.92,"v":245},{"s":2010,"m":4.05,"v":244},{"s":2010,"m":4.12,"v":243},{"s":2010,"m":4.28,"v":245},{"s":2010,"m":4.33,"v":253},{"s":2010,"m":4.48,"v":252},{"s":2010,"m":4.58,"v":248},{"s":2010,"m":4.66,"v":237},{"s":2010,"m":4.79,"v":238},{"s":2010,"m":4.89,"v":243},{"s":2010,"m":5.05,"v":243},{"s":2010,"m":5.2,"v":243},{"s":2010,"m":5.35,"v":245},{"s":2010,"m":5.51,"v":248},{"s":2010,"m":5.58,"v":253},{"s":2010,"m":5.71,"v":252},{"s":2010,"m":5.87,"v":253},{"s":2010,"m":6.02,"v":242},{"s":2010,"m":6.17,"v":243},{"s":2010,"m":6.33,"v":245},{"s":2010,"m":6.48,"v":243},{"s":2010,"m":6.53,"v":240},{"s":2010,"m":6.69,"v":240},{"s":2010,"m":6.82,"v":237},{"s":2010,"m":6.94,"v":238},{"s":2010,"m":7.1,"v":243},{"s":2010,"m":7.25,"v":245},{"s":2010,"m":7.4,"v":245},{"s":2010,"m":7.56,"v":248},{"s":2010,"m":7.71,"v":247},{"s":2010,"m":7.82,"v":250},{"s":2010,"m":7.97,"v":253},{"s":2010,"m":8.12,"v":253},{"s":2010,"m":8.28,"v":253},{"s":2010,"m":8.43,"v":255},{"s":2010,"m":8.58,"v":257},{"s":2010,"m":8.74,"v":260},{"s":2010,"m":8.89,"v":260},{"s":2010,"m":9.05,"v":262},{"s":2010,"m":9.2,"v":265},{"s":2010,"m":9.35,"v":263},{"s":2010,"m":9.51,"v":265},{"s":2010,"m":9.66,"v":260},{"s":2010,"m":9.82,"v":258},{"s":2010,"m":9.97,"v":263},{"s":2010,"m":10.12,"v":263},{"s":2010,"m":10.23,"v":272},{"s":2010,"m":10.38,"v":275},{"s":2010,"m":10.48,"v":272},{"s":2010,"m":10.58,"v":267},{"s":2010,"m":10.69,"v":272},{"s":2010,"m":10.84,"v":270},{"s":2010,"m":10.94,"v":268},{"s":2010,"m":11.05,"v":277},{"s":2010,"m":11.15,"v":278},{"s":2010,"m":11.3,"v":277},{"s":2010,"m":11.4,"v":280},{"s":2010,"m":11.56,"v":275},{"s":2010,"m":11.71,"v":273},{"s":2010,"m":11.87,"v":277},{"s":2010,"m":12.0,"v":278},
{"s":2009,"m":0.02,"v":207},{"s":2009,"m":0.07,"v":205},{"s":2009,"m":0.17,"v":204},{"s":2009,"m":0.28,"v":199},{"s":2009,"m":0.38,"v":198},{"s":2009,"m":0.48,"v":202},{"s":2009,"m":0.58,"v":203},{"s":2009,"m":0.69,"v":209},{"s":2009,"m":0.79,"v":207},{"s":2009,"m":0.89,"v":208},{"s":2009,"m":1.0,"v":207},{"s":2009,"m":1.15,"v":208},{"s":2009,"m":1.25,"v":210},{"s":2009,"m":1.38,"v":213},{"s":2009,"m":1.51,"v":212},{"s":2009,"m":1.66,"v":212},{"s":2009,"m":1.79,"v":207},{"s":2009,"m":1.92,"v":207},{"s":2009,"m":2.02,"v":201},{"s":2009,"m":2.12,"v":203},{"s":2009,"m":2.23,"v":205},{"s":2009,"m":2.33,"v":200},{"s":2009,"m":2.43,"v":205},{"s":2009,"m":2.53,"v":208},{"s":2009,"m":2.64,"v":215},{"s":2009,"m":2.79,"v":217},{"s":2009,"m":2.89,"v":215},{"s":2009,"m":2.97,"v":218},{"s":2009,"m":3.05,"v":215},{"s":2009,"m":3.15,"v":208},{"s":2009,"m":3.3,"v":208},{"s":2009,"m":3.46,"v":205},{"s":2009,"m":3.56,"v":203},{"s":2009,"m":3.66,"v":205},{"s":2009,"m":3.79,"v":212},{"s":2009,"m":3.92,"v":210},{"s":2009,"m":4.02,"v":210},{"s":2009,"m":4.07,"v":213},{"s":2009,"m":4.17,"v":218},{"s":2009,"m":4.28,"v":219},{"s":2009,"m":4.38,"v":220},{"s":2009,"m":4.48,"v":218},{"s":2009,"m":4.58,"v":223},{"s":2009,"m":4.66,"v":225},{"s":2009,"m":4.79,"v":228},{"s":2009,"m":4.89,"v":230},{"s":2009,"m":5.0,"v":233},{"s":2009,"m":5.1,"v":232},{"s":2009,"m":5.2,"v":227},{"s":2009,"m":5.35,"v":223},{"s":2009,"m":5.46,"v":218},{"s":2009,"m":5.61,"v":217},{"s":2009,"m":5.74,"v":222},{"s":2009,"m":5.87,"v":223},{"s":2009,"m":6.02,"v":222},{"s":2009,"m":6.12,"v":217},{"s":2009,"m":6.23,"v":215},{"s":2009,"m":6.35,"v":213},{"s":2009,"m":6.48,"v":220},{"s":2009,"m":6.58,"v":223},{"s":2009,"m":6.74,"v":223},{"s":2009,"m":6.84,"v":220},{"s":2009,"m":7.0,"v":225},{"s":2009,"m":7.1,"v":227},{"s":2009,"m":7.25,"v":225},{"s":2009,"m":7.35,"v":223},{"s":2009,"m":7.51,"v":222},{"s":2009,"m":7.66,"v":223},{"s":2009,"m":7.82,"v":225},{"s":2009,"m":7.97,"v":223},{"s":2009,"m":8.07,"v":230},{"s":2009,"m":8.17,"v":237},{"s":2009,"m":8.33,"v":238},{"s":2009,"m":8.48,"v":245},{"s":2009,"m":8.64,"v":239},{"s":2009,"m":8.79,"v":235},{"s":2009,"m":8.94,"v":237},{"s":2009,"m":9.05,"v":233},{"s":2009,"m":9.2,"v":245},{"s":2009,"m":9.35,"v":246},{"s":2009,"m":9.51,"v":245},{"s":2009,"m":9.66,"v":243},{"s":2009,"m":9.82,"v":237},{"s":2009,"m":9.92,"v":230},{"s":2009,"m":10.02,"v":240},{"s":2009,"m":10.17,"v":243},{"s":2009,"m":10.33,"v":248},{"s":2009,"m":10.48,"v":251},{"s":2009,"m":10.64,"v":253},{"s":2009,"m":10.79,"v":253},{"s":2009,"m":10.94,"v":257},{"s":2009,"m":11.05,"v":262},{"s":2009,"m":11.15,"v":252},{"s":2009,"m":11.3,"v":247},{"s":2009,"m":11.46,"v":245},{"s":2009,"m":11.61,"v":240},{"s":2009,"m":11.76,"v":243},{"s":2009,"m":12.0,"v":242},
{"s":2008,"m":0.02,"v":228},{"s":2008,"m":0.07,"v":227},{"s":2008,"m":0.17,"v":228},{"s":2008,"m":0.28,"v":232},{"s":2008,"m":0.35,"v":233},{"s":2008,"m":0.43,"v":228},{"s":2008,"m":0.53,"v":226},{"s":2008,"m":0.64,"v":227},{"s":2008,"m":0.74,"v":230},{"s":2008,"m":0.84,"v":231},{"s":2008,"m":0.92,"v":228},{"s":2008,"m":1.0,"v":226},{"s":2008,"m":1.15,"v":225},{"s":2008,"m":1.3,"v":227},{"s":2008,"m":1.46,"v":228},{"s":2008,"m":1.56,"v":230},{"s":2008,"m":1.71,"v":233},{"s":2008,"m":1.87,"v":234},{"s":2008,"m":1.97,"v":237},{"s":2008,"m":2.12,"v":238},{"s":2008,"m":2.23,"v":235},{"s":2008,"m":2.33,"v":236},{"s":2008,"m":2.43,"v":238},{"s":2008,"m":2.53,"v":235},{"s":2008,"m":2.69,"v":228},{"s":2008,"m":2.84,"v":227},{"s":2008,"m":2.94,"v":228},{"s":2008,"m":3.05,"v":228},{"s":2008,"m":3.2,"v":228},{"s":2008,"m":3.35,"v":228},{"s":2008,"m":3.51,"v":230},{"s":2008,"m":3.61,"v":228},{"s":2008,"m":3.71,"v":223},{"s":2008,"m":3.82,"v":220},{"s":2008,"m":3.92,"v":218},{"s":2008,"m":4.02,"v":218},{"s":2008,"m":4.12,"v":222},{"s":2008,"m":4.28,"v":223},{"s":2008,"m":4.48,"v":222},{"s":2008,"m":4.58,"v":225},{"s":2008,"m":4.69,"v":228},{"s":2008,"m":4.79,"v":227},{"s":2008,"m":4.94,"v":225},{"s":2008,"m":5.1,"v":223},{"s":2008,"m":5.25,"v":225},{"s":2008,"m":5.35,"v":220},{"s":2008,"m":5.51,"v":219},{"s":2008,"m":5.66,"v":222},{"s":2008,"m":5.82,"v":223},{"s":2008,"m":5.92,"v":228},{"s":2008,"m":6.02,"v":228},{"s":2008,"m":6.17,"v":225},{"s":2008,"m":6.33,"v":230},{"s":2008,"m":6.43,"v":228},{"s":2008,"m":6.58,"v":225},{"s":2008,"m":6.69,"v":220},{"s":2008,"m":6.84,"v":220},{"s":2008,"m":6.94,"v":218},{"s":2008,"m":7.05,"v":217},{"s":2008,"m":7.15,"v":213},{"s":2008,"m":7.25,"v":210},{"s":2008,"m":7.35,"v":207},{"s":2008,"m":7.56,"v":207},{"s":2008,"m":7.66,"v":210},{"s":2008,"m":7.76,"v":209},{"s":2008,"m":7.92,"v":210},{"s":2008,"m":8.02,"v":209},{"s":2008,"m":8.12,"v":202},{"s":2008,"m":8.28,"v":197},{"s":2008,"m":8.43,"v":198},{"s":2008,"m":8.53,"v":202},{"s":2008,"m":8.69,"v":210},{"s":2008,"m":8.84,"v":207},{"s":2008,"m":9.0,"v":203},{"s":2008,"m":9.15,"v":200},{"s":2008,"m":9.25,"v":198},{"s":2008,"m":9.35,"v":193},{"s":2008,"m":9.51,"v":188},{"s":2008,"m":9.66,"v":178},{"s":2008,"m":9.82,"v":183},{"s":2008,"m":9.97,"v":182},{"s":2008,"m":10.12,"v":185},{"s":2008,"m":10.33,"v":182},{"s":2008,"m":10.53,"v":179},{"s":2008,"m":10.74,"v":188},{"s":2008,"m":10.89,"v":190},{"s":2008,"m":11.05,"v":187},{"s":2008,"m":11.25,"v":188},{"s":2008,"m":11.4,"v":193},{"s":2008,"m":11.56,"v":198},{"s":2008,"m":11.76,"v":197},{"s":2008,"m":12.0,"v":200},
{"s":2007,"m":0.02,"v":160},{"s":2007,"m":0.1,"v":158},{"s":2007,"m":0.17,"v":159},{"s":2007,"m":0.25,"v":157},{"s":2007,"m":0.33,"v":157},{"s":2007,"m":0.38,"v":161},{"s":2007,"m":0.48,"v":157},{"s":2007,"m":0.53,"v":160},{"s":2007,"m":0.64,"v":163},{"s":2007,"m":0.74,"v":166},{"s":2007,"m":0.87,"v":165},{"s":2007,"m":0.94,"v":168},{"s":2007,"m":1.1,"v":168},{"s":2007,"m":1.2,"v":167},{"s":2007,"m":1.3,"v":169},{"s":2007,"m":1.4,"v":169},{"s":2007,"m":1.51,"v":172},{"s":2007,"m":1.61,"v":172},{"s":2007,"m":1.71,"v":175},{"s":2007,"m":1.79,"v":177},{"s":2007,"m":1.87,"v":178},{"s":2007,"m":1.94,"v":168},{"s":2007,"m":2.02,"v":167},{"s":2007,"m":2.12,"v":165},{"s":2007,"m":2.23,"v":166},{"s":2007,"m":2.33,"v":163},{"s":2007,"m":2.43,"v":165},{"s":2007,"m":2.53,"v":167},{"s":2007,"m":2.64,"v":170},{"s":2007,"m":2.74,"v":170},{"s":2007,"m":2.84,"v":168},{"s":2007,"m":2.94,"v":167},{"s":2007,"m":3.05,"v":172},{"s":2007,"m":3.15,"v":177},{"s":2007,"m":3.25,"v":175},{"s":2007,"m":3.35,"v":178},{"s":2007,"m":3.46,"v":182},{"s":2007,"m":3.56,"v":178},{"s":2007,"m":3.66,"v":177},{"s":2007,"m":3.76,"v":175},{"s":2007,"m":3.86,"v":172},{"s":2007,"m":3.97,"v":170},{"s":2007,"m":4.07,"v":172},{"s":2007,"m":4.17,"v":172},{"s":2007,"m":4.28,"v":170},{"s":2007,"m":4.38,"v":168},{"s":2007,"m":4.53,"v":167},{"s":2007,"m":4.69,"v":165},{"s":2007,"m":4.84,"v":163},{"s":2007,"m":5.0,"v":170},{"s":2007,"m":5.1,"v":170},{"s":2007,"m":5.25,"v":166},{"s":2007,"m":5.38,"v":168},{"s":2007,"m":5.51,"v":170},{"s":2007,"m":5.61,"v":166},{"s":2007,"m":5.76,"v":163},{"s":2007,"m":5.92,"v":165},{"s":2007,"m":6.02,"v":167},{"s":2007,"m":6.23,"v":168},{"s":2007,"m":6.43,"v":173},{"s":2007,"m":6.53,"v":180},{"s":2007,"m":6.64,"v":182},{"s":2007,"m":6.74,"v":178},{"s":2007,"m":6.82,"v":172},{"s":2007,"m":6.94,"v":170},{"s":2007,"m":7.05,"v":168},{"s":2007,"m":7.15,"v":167},{"s":2007,"m":7.25,"v":168},{"s":2007,"m":7.35,"v":167},{"s":2007,"m":7.46,"v":163},{"s":2007,"m":7.56,"v":167},{"s":2007,"m":7.66,"v":167},{"s":2007,"m":7.76,"v":165},{"s":2007,"m":7.87,"v":168},{"s":2007,"m":7.97,"v":173},{"s":2007,"m":8.12,"v":177},{"s":2007,"m":8.28,"v":180},{"s":2007,"m":8.48,"v":180},{"s":2007,"m":8.56,"v":187},{"s":2007,"m":8.69,"v":192},{"s":2007,"m":8.87,"v":188},{"s":2007,"m":8.94,"v":190},{"s":2007,"m":9.02,"v":195},{"s":2007,"m":9.15,"v":192},{"s":2007,"m":9.23,"v":198},{"s":2007,"m":9.3,"v":200},{"s":2007,"m":9.41,"v":199},{"s":2007,"m":9.51,"v":197},{"s":2007,"m":9.61,"v":198},{"s":2007,"m":9.71,"v":197},{"s":2007,"m":9.82,"v":202},{"s":2007,"m":9.92,"v":205},{"s":2007,"m":10.0,"v":208},{"s":2007,"m":10.07,"v":212},{"s":2007,"m":10.15,"v":217},{"s":2007,"m":10.23,"v":215},{"s":2007,"m":10.33,"v":210},{"s":2007,"m":10.38,"v":198},{"s":2007,"m":10.48,"v":200},{"s":2007,"m":10.58,"v":203},{"s":2007,"m":10.66,"v":207},{"s":2007,"m":10.76,"v":200},{"s":2007,"m":10.84,"v":197},{"s":2007,"m":10.94,"v":198},{"s":2007,"m":11.05,"v":197},{"s":2007,"m":11.15,"v":199},{"s":2007,"m":11.25,"v":196},{"s":2007,"m":11.35,"v":197},{"s":2007,"m":11.46,"v":193},{"s":2007,"m":11.56,"v":195},{"s":2007,"m":11.66,"v":195},{"s":2007,"m":11.79,"v":195},{"s":2007,"m":11.92,"v":197},{"s":2007,"m":12.0,"v":199},
{"s":2006,"m":0.02,"v":147},{"s":2006,"m":0.07,"v":143},{"s":2006,"m":0.17,"v":146},{"s":2006,"m":0.25,"v":144},{"s":2006,"m":0.33,"v":145},{"s":2006,"m":0.38,"v":150},{"s":2006,"m":0.48,"v":143},{"s":2006,"m":0.56,"v":147},{"s":2006,"m":0.64,"v":148},{"s":2006,"m":0.71,"v":153},{"s":2006,"m":0.79,"v":157},{"s":2006,"m":0.87,"v":163},{"s":2006,"m":0.92,"v":168},{"s":2006,"m":0.98,"v":168},{"s":2006,"m":1.15,"v":168},{"s":2006,"m":1.23,"v":153},{"s":2006,"m":1.3,"v":153},{"s":2006,"m":1.38,"v":150},{"s":2006,"m":1.46,"v":146},{"s":2006,"m":1.51,"v":148},{"s":2006,"m":1.56,"v":143},{"s":2006,"m":1.64,"v":152},{"s":2006,"m":1.74,"v":157},{"s":2006,"m":1.82,"v":152},{"s":2006,"m":1.92,"v":150},{"s":2006,"m":2.0,"v":147},{"s":2006,"m":2.05,"v":157},{"s":2006,"m":2.1,"v":160},{"s":2006,"m":2.17,"v":148},{"s":2006,"m":2.23,"v":138},{"s":2006,"m":2.3,"v":142},{"s":2006,"m":2.38,"v":145},{"s":2006,"m":2.48,"v":147},{"s":2006,"m":2.58,"v":144},{"s":2006,"m":2.64,"v":147},{"s":2006,"m":2.71,"v":147},{"s":2006,"m":2.76,"v":153},{"s":2006,"m":2.84,"v":157},{"s":2006,"m":2.89,"v":163},{"s":2006,"m":2.94,"v":167},{"s":2006,"m":3.05,"v":167},{"s":2006,"m":3.15,"v":173},{"s":2006,"m":3.3,"v":173},{"s":2006,"m":3.46,"v":175},{"s":2006,"m":3.56,"v":192},{"s":2006,"m":3.63,"v":187},{"s":2006,"m":3.74,"v":185},{"s":2006,"m":3.84,"v":188},{"s":2006,"m":3.92,"v":182},{"s":2006,"m":4.02,"v":188},{"s":2006,"m":4.07,"v":192},{"s":2006,"m":4.17,"v":188},{"s":2006,"m":4.25,"v":187},{"s":2006,"m":4.3,"v":197},{"s":2006,"m":4.38,"v":193},{"s":2006,"m":4.43,"v":182},{"s":2006,"m":4.48,"v":168},{"s":2006,"m":4.56,"v":162},{"s":2006,"m":4.61,"v":158},{"s":2006,"m":4.69,"v":157},{"s":2006,"m":4.76,"v":155},{"s":2006,"m":4.79,"v":152},{"s":2006,"m":4.87,"v":160},{"s":2006,"m":4.94,"v":163},{"s":2006,"m":5.07,"v":167},{"s":2006,"m":5.12,"v":160},{"s":2006,"m":5.17,"v":155},{"s":2006,"m":5.23,"v":150},{"s":2006,"m":5.3,"v":145},{"s":2006,"m":5.35,"v":138},{"s":2006,"m":5.4,"v":133},{"s":2006,"m":5.46,"v":135},{"s":2006,"m":5.48,"v":144},{"s":2006,"m":5.56,"v":142},{"s":2006,"m":5.63,"v":149},{"s":2006,"m":5.71,"v":152},{"s":2006,"m":5.79,"v":153},{"s":2006,"m":5.89,"v":148},{"s":2006,"m":5.97,"v":167},{"s":2006,"m":6.02,"v":168},{"s":2006,"m":6.17,"v":167},{"s":2006,"m":6.33,"v":168},{"s":2006,"m":6.38,"v":165},{"s":2006,"m":6.48,"v":160},{"s":2006,"m":6.58,"v":157},{"s":2006,"m":6.66,"v":150},{"s":2006,"m":6.74,"v":155},{"s":2006,"m":6.84,"v":160},{"s":2006,"m":6.92,"v":162},{"s":2006,"m":6.97,"v":167},{"s":2006,"m":7.05,"v":168},{"s":2006,"m":7.25,"v":166},{"s":2006,"m":7.4,"v":160},{"s":2006,"m":7.56,"v":167},{"s":2006,"m":7.76,"v":168},{"s":2006,"m":7.97,"v":173},{"s":2006,"m":8.07,"v":180},{"s":2006,"m":8.12,"v":178},{"s":2006,"m":8.17,"v":172},{"s":2006,"m":8.22,"v":165},{"s":2006,"m":8.28,"v":152},{"s":2006,"m":8.35,"v":152},{"s":2006,"m":8.4,"v":142},{"s":2006,"m":8.48,"v":143},{"s":2006,"m":8.58,"v":141},{"s":2006,"m":8.71,"v":143},{"s":2006,"m":8.79,"v":140},{"s":2006,"m":8.84,"v":145},{"s":2006,"m":8.92,"v":148},{"s":2006,"m":9.02,"v":147},{"s":2006,"m":9.1,"v":137},{"s":2006,"m":9.17,"v":142},{"s":2006,"m":9.25,"v":141},{"s":2006,"m":9.35,"v":147},{"s":2006,"m":9.43,"v":148},{"s":2006,"m":9.51,"v":152},{"s":2006,"m":9.58,"v":147},{"s":2006,"m":9.66,"v":147},{"s":2006,"m":9.76,"v":155},{"s":2006,"m":9.84,"v":153},{"s":2006,"m":9.92,"v":152},{"s":2006,"m":9.97,"v":157},{"s":2006,"m":10.07,"v":157},{"s":2006,"m":10.15,"v":160},{"s":2006,"m":10.23,"v":160},{"s":2006,"m":10.3,"v":167},{"s":2006,"m":10.38,"v":160},{"s":2006,"m":10.43,"v":162},{"s":2006,"m":10.53,"v":153},{"s":2006,"m":10.58,"v":155},{"s":2006,"m":10.64,"v":163},{"s":2006,"m":10.71,"v":167},{"s":2006,"m":10.79,"v":168},{"s":2006,"m":10.94,"v":170},{"s":2006,"m":11.05,"v":177},{"s":2006,"m":11.15,"v":175},{"s":2006,"m":11.25,"v":172},{"s":2006,"m":11.35,"v":170},{"s":2006,"m":11.56,"v":163},{"s":2006,"m":11.66,"v":172},{"s":2006,"m":11.76,"v":160},{"s":2006,"m":11.92,"v":167},{"s":2006,"m":12.0,"v":173},
{"s":2005,"m":0.02,"v":129},{"s":2005,"m":0.17,"v":129},{"s":2005,"m":0.28,"v":132},{"s":2005,"m":0.38,"v":131},{"s":2005,"m":0.48,"v":132},{"s":2005,"m":0.58,"v":133},{"s":2005,"m":0.69,"v":133},{"s":2005,"m":0.79,"v":130},{"s":2005,"m":0.89,"v":129},{"s":2005,"m":0.98,"v":130},{"s":2005,"m":1.17,"v":127},{"s":2005,"m":1.25,"v":125},{"s":2005,"m":1.33,"v":127},{"s":2005,"m":1.4,"v":133},{"s":2005,"m":1.51,"v":133},{"s":2005,"m":1.66,"v":135},{"s":2005,"m":1.76,"v":138},{"s":2005,"m":1.87,"v":137},{"s":2005,"m":1.97,"v":137},{"s":2005,"m":2.07,"v":135},{"s":2005,"m":2.17,"v":137},{"s":2005,"m":2.28,"v":142},{"s":2005,"m":2.38,"v":140},{"s":2005,"m":2.48,"v":139},{"s":2005,"m":2.58,"v":138},{"s":2005,"m":2.69,"v":134},{"s":2005,"m":2.79,"v":129},{"s":2005,"m":2.89,"v":127},{"s":2005,"m":3.0,"v":130},{"s":2005,"m":3.1,"v":127},{"s":2005,"m":3.2,"v":128},{"s":2005,"m":3.3,"v":127},{"s":2005,"m":3.4,"v":123},{"s":2005,"m":3.56,"v":123},{"s":2005,"m":3.66,"v":122},{"s":2005,"m":3.76,"v":122},{"s":2005,"m":3.86,"v":117},{"s":2005,"m":3.94,"v":115},{"s":2005,"m":4.07,"v":117},{"s":2005,"m":4.15,"v":120},{"s":2005,"m":4.28,"v":120},{"s":2005,"m":4.35,"v":117},{"s":2005,"m":4.4,"v":113},{"s":2005,"m":4.48,"v":110},{"s":2005,"m":4.58,"v":112},{"s":2005,"m":4.69,"v":113},{"s":2005,"m":4.79,"v":115},{"s":2005,"m":4.87,"v":118},{"s":2005,"m":4.94,"v":121},{"s":2005,"m":5.02,"v":123},{"s":2005,"m":5.1,"v":122},{"s":2005,"m":5.2,"v":119},{"s":2005,"m":5.33,"v":123},{"s":2005,"m":5.43,"v":127},{"s":2005,"m":5.51,"v":129},{"s":2005,"m":5.61,"v":127},{"s":2005,"m":5.74,"v":127},{"s":2005,"m":5.92,"v":130},{"s":2005,"m":6.07,"v":127},{"s":2005,"m":6.23,"v":128},{"s":2005,"m":6.33,"v":131},{"s":2005,"m":6.43,"v":127},{"s":2005,"m":6.53,"v":125},{"s":2005,"m":6.66,"v":128},{"s":2005,"m":6.82,"v":127},{"s":2005,"m":6.94,"v":127},{"s":2005,"m":7.05,"v":128},{"s":2005,"m":7.12,"v":134},{"s":2005,"m":7.25,"v":133},{"s":2005,"m":7.35,"v":138},{"s":2005,"m":7.46,"v":137},{"s":2005,"m":7.56,"v":133},{"s":2005,"m":7.66,"v":133},{"s":2005,"m":7.76,"v":130},{"s":2005,"m":7.87,"v":131},{"s":2005,"m":7.97,"v":137},{"s":2005,"m":8.07,"v":136},{"s":2005,"m":8.17,"v":137},{"s":2005,"m":8.28,"v":140},{"s":2005,"m":8.38,"v":143},{"s":2005,"m":8.48,"v":150},{"s":2005,"m":8.58,"v":150},{"s":2005,"m":8.69,"v":152},{"s":2005,"m":8.79,"v":153},{"s":2005,"m":8.87,"v":155},{"s":2005,"m":8.94,"v":155},{"s":2005,"m":9.05,"v":152},{"s":2005,"m":9.15,"v":148},{"s":2005,"m":9.23,"v":153},{"s":2005,"m":9.33,"v":152},{"s":2005,"m":9.41,"v":147},{"s":2005,"m":9.51,"v":147},{"s":2005,"m":9.61,"v":138},{"s":2005,"m":9.71,"v":142},{"s":2005,"m":9.82,"v":142},{"s":2005,"m":9.94,"v":140},{"s":2005,"m":10.02,"v":145},{"s":2005,"m":10.12,"v":142},{"s":2005,"m":10.23,"v":142},{"s":2005,"m":10.33,"v":145},{"s":2005,"m":10.43,"v":147},{"s":2005,"m":10.53,"v":153},{"s":2005,"m":10.64,"v":155},{"s":2005,"m":10.74,"v":158},{"s":2005,"m":10.84,"v":158},{"s":2005,"m":10.94,"v":155},{"s":2005,"m":11.05,"v":158},{"s":2005,"m":11.15,"v":162},{"s":2005,"m":11.25,"v":163},{"s":2005,"m":11.35,"v":162},{"s":2005,"m":11.46,"v":158},{"s":2005,"m":11.56,"v":162},{"s":2005,"m":11.66,"v":163},{"s":2005,"m":11.76,"v":167},{"s":2005,"m":11.87,"v":165},{"s":2005,"m":12.0,"v":166},
{"s":2004,"m":0.02,"v":152},{"s":2004,"m":0.07,"v":147},{"s":2004,"m":0.17,"v":148},{"s":2004,"m":0.28,"v":146},{"s":2004,"m":0.38,"v":143},{"s":2004,"m":0.48,"v":132},{"s":2004,"m":0.58,"v":132},{"s":2004,"m":0.66,"v":127},{"s":2004,"m":0.74,"v":127},{"s":2004,"m":0.82,"v":130},{"s":2004,"m":0.89,"v":121},{"s":2004,"m":0.98,"v":123},{"s":2004,"m":1.07,"v":123},{"s":2004,"m":1.15,"v":121},{"s":2004,"m":1.23,"v":128},{"s":2004,"m":1.3,"v":137},{"s":2004,"m":1.38,"v":138},{"s":2004,"m":1.46,"v":137},{"s":2004,"m":1.53,"v":133},{"s":2004,"m":1.61,"v":134},{"s":2004,"m":1.71,"v":128},{"s":2004,"m":1.79,"v":130},{"s":2004,"m":1.89,"v":128},{"s":2004,"m":2.0,"v":130},{"s":2004,"m":2.07,"v":127},{"s":2004,"m":2.17,"v":130},{"s":2004,"m":2.25,"v":133},{"s":2004,"m":2.33,"v":127},{"s":2004,"m":2.43,"v":123},{"s":2004,"m":2.53,"v":127},{"s":2004,"m":2.64,"v":132},{"s":2004,"m":2.74,"v":133},{"s":2004,"m":2.84,"v":133},{"s":2004,"m":2.94,"v":137},{"s":2004,"m":3.05,"v":137},{"s":2004,"m":3.15,"v":133},{"s":2004,"m":3.25,"v":133},{"s":2004,"m":3.33,"v":125},{"s":2004,"m":3.4,"v":118},{"s":2004,"m":3.51,"v":120},{"s":2004,"m":3.58,"v":108},{"s":2004,"m":3.66,"v":107},{"s":2004,"m":3.76,"v":107},{"s":2004,"m":3.84,"v":105},{"s":2004,"m":3.92,"v":93},{"s":2004,"m":4.02,"v":95},{"s":2004,"m":4.07,"v":102},{"s":2004,"m":4.12,"v":99},{"s":2004,"m":4.23,"v":88},{"s":2004,"m":4.33,"v":93},{"s":2004,"m":4.4,"v":92},{"s":2004,"m":4.48,"v":95},{"s":2004,"m":4.58,"v":100},{"s":2004,"m":4.69,"v":102},{"s":2004,"m":4.79,"v":107},{"s":2004,"m":4.89,"v":110},{"s":2004,"m":4.97,"v":108},{"s":2004,"m":5.05,"v":107},{"s":2004,"m":5.15,"v":105},{"s":2004,"m":5.25,"v":100},{"s":2004,"m":5.35,"v":98},{"s":2004,"m":5.46,"v":98},{"s":2004,"m":5.56,"v":102},{"s":2004,"m":5.66,"v":102},{"s":2004,"m":5.76,"v":105},{"s":2004,"m":5.87,"v":100},{"s":2004,"m":5.94,"v":100},{"s":2004,"m":6.02,"v":102},{"s":2004,"m":6.15,"v":108},{"s":2004,"m":6.25,"v":112},{"s":2004,"m":6.35,"v":108},{"s":2004,"m":6.48,"v":107},{"s":2004,"m":6.58,"v":103},{"s":2004,"m":6.69,"v":100},{"s":2004,"m":6.79,"v":93},{"s":2004,"m":6.89,"v":95},{"s":2004,"m":7.0,"v":98},{"s":2004,"m":7.1,"v":100},{"s":2004,"m":7.2,"v":98},{"s":2004,"m":7.3,"v":98},{"s":2004,"m":7.4,"v":102},{"s":2004,"m":7.51,"v":107},{"s":2004,"m":7.61,"v":117},{"s":2004,"m":7.71,"v":113},{"s":2004,"m":7.82,"v":114},{"s":2004,"m":7.92,"v":115},{"s":2004,"m":7.99,"v":117},{"s":2004,"m":8.07,"v":115},{"s":2004,"m":8.17,"v":110},{"s":2004,"m":8.28,"v":113},{"s":2004,"m":8.4,"v":117},{"s":2004,"m":8.53,"v":116},{"s":2004,"m":8.64,"v":121},{"s":2004,"m":8.74,"v":122},{"s":2004,"m":8.82,"v":122},{"s":2004,"m":8.87,"v":128},{"s":2004,"m":8.97,"v":134},{"s":2004,"m":9.07,"v":132},{"s":2004,"m":9.15,"v":135},{"s":2004,"m":9.25,"v":137},{"s":2004,"m":9.35,"v":132},{"s":2004,"m":9.43,"v":127},{"s":2004,"m":9.51,"v":127},{"s":2004,"m":9.61,"v":132},{"s":2004,"m":9.69,"v":135},{"s":2004,"m":9.79,"v":140},{"s":2004,"m":9.89,"v":133},{"s":2004,"m":9.99,"v":132},{"s":2004,"m":10.07,"v":128},{"s":2004,"m":10.15,"v":137},{"s":2004,"m":10.28,"v":138},{"s":2004,"m":10.4,"v":138},{"s":2004,"m":10.53,"v":142},{"s":2004,"m":10.64,"v":143},{"s":2004,"m":10.76,"v":138},{"s":2004,"m":10.86,"v":142},{"s":2004,"m":10.97,"v":138},{"s":2004,"m":11.03,"v":138},
{"s":2003,"m":0.02,"v":82},{"s":2003,"m":0.12,"v":80},{"s":2003,"m":0.23,"v":80},{"s":2003,"m":0.35,"v":76},{"s":2003,"m":0.46,"v":80},{"s":2003,"m":0.58,"v":81},{"s":2003,"m":0.68,"v":83},{"s":2003,"m":0.79,"v":81},{"s":2003,"m":0.92,"v":80},{"s":2003,"m":0.98,"v":78},{"s":2003,"m":1.07,"v":83},{"s":2003,"m":1.15,"v":78},{"s":2003,"m":1.3,"v":75},{"s":2003,"m":1.46,"v":76},{"s":2003,"m":1.61,"v":75},{"s":2003,"m":1.76,"v":73},{"s":2003,"m":1.92,"v":73},{"s":2003,"m":2.07,"v":73},{"s":2003,"m":2.17,"v":72},{"s":2003,"m":2.28,"v":67},{"s":2003,"m":2.43,"v":68},{"s":2003,"m":2.53,"v":70},{"s":2003,"m":2.69,"v":67},{"s":2003,"m":2.84,"v":66},{"s":2003,"m":2.94,"v":70},{"s":2003,"m":3.1,"v":68},{"s":2003,"m":3.25,"v":68},{"s":2003,"m":3.35,"v":71},{"s":2003,"m":3.51,"v":72},{"s":2003,"m":3.66,"v":73},{"s":2003,"m":3.79,"v":70},{"s":2003,"m":3.92,"v":70},{"s":2003,"m":4.07,"v":73},{"s":2003,"m":4.28,"v":74},{"s":2003,"m":4.48,"v":75},{"s":2003,"m":4.64,"v":77},{"s":2003,"m":4.79,"v":78},{"s":2003,"m":5.0,"v":78},{"s":2003,"m":5.15,"v":80},{"s":2003,"m":5.3,"v":80},{"s":2003,"m":5.46,"v":83},{"s":2003,"m":5.56,"v":84},{"s":2003,"m":5.66,"v":85},{"s":2003,"m":5.76,"v":81},{"s":2003,"m":5.92,"v":81},{"s":2003,"m":6.02,"v":84},{"s":2003,"m":6.17,"v":83},{"s":2003,"m":6.33,"v":83},{"s":2003,"m":6.48,"v":79},{"s":2003,"m":6.64,"v":82},{"s":2003,"m":6.74,"v":87},{"s":2003,"m":6.89,"v":88},{"s":2003,"m":7.05,"v":88},{"s":2003,"m":7.2,"v":90},{"s":2003,"m":7.35,"v":95},{"s":2003,"m":7.51,"v":96},{"s":2003,"m":7.61,"v":98},{"s":2003,"m":7.76,"v":100},{"s":2003,"m":7.89,"v":102},{"s":2003,"m":8.02,"v":102},{"s":2003,"m":8.12,"v":102},{"s":2003,"m":8.28,"v":105},{"s":2003,"m":8.43,"v":103},{"s":2003,"m":8.58,"v":105},{"s":2003,"m":8.69,"v":108},{"s":2003,"m":8.79,"v":109},{"s":2003,"m":8.87,"v":102},{"s":2003,"m":9.0,"v":103},{"s":2003,"m":9.12,"v":100},{"s":2003,"m":9.25,"v":103},{"s":2003,"m":9.38,"v":107},{"s":2003,"m":9.51,"v":105},{"s":2003,"m":9.66,"v":113},{"s":2003,"m":9.76,"v":113},{"s":2003,"m":9.87,"v":115},{"s":2003,"m":9.99,"v":112},{"s":2003,"m":10.12,"v":110},{"s":2003,"m":10.25,"v":109},{"s":2003,"m":10.38,"v":116},{"s":2003,"m":10.53,"v":116},{"s":2003,"m":10.61,"v":122},{"s":2003,"m":10.74,"v":120},{"s":2003,"m":10.84,"v":120},{"s":2003,"m":10.94,"v":127},{"s":2003,"m":11.05,"v":131},{"s":2003,"m":11.15,"v":129},{"s":2003,"m":11.25,"v":123},{"s":2003,"m":11.35,"v":122},{"s":2003,"m":11.51,"v":125},{"s":2003,"m":11.66,"v":117},{"s":2003,"m":11.76,"v":118},{"s":2003,"m":11.87,"v":127},{"s":2003,"m":12.0,"v":125},
{"s":2002,"m":0.02,"v":44},{"s":2002,"m":0.12,"v":44},{"s":2002,"m":0.23,"v":47},{"s":2002,"m":0.33,"v":48},{"s":2002,"m":0.43,"v":50},{"s":2002,"m":0.53,"v":48},{"s":2002,"m":0.64,"v":48},{"s":2002,"m":0.74,"v":50},{"s":2002,"m":0.84,"v":52},{"s":2002,"m":0.92,"v":52},{"s":2002,"m":0.98,"v":55},{"s":2002,"m":1.07,"v":58},{"s":2002,"m":1.15,"v":62},{"s":2002,"m":1.25,"v":60},{"s":2002,"m":1.35,"v":63},{"s":2002,"m":1.46,"v":62},{"s":2002,"m":1.61,"v":58},{"s":2002,"m":1.71,"v":60},{"s":2002,"m":1.82,"v":58},{"s":2002,"m":1.92,"v":60},{"s":2002,"m":2.02,"v":60},{"s":2002,"m":2.15,"v":60},{"s":2002,"m":2.23,"v":57},{"s":2002,"m":2.33,"v":57},{"s":2002,"m":2.43,"v":57},{"s":2002,"m":2.53,"v":60},{"s":2002,"m":2.64,"v":63},{"s":2002,"m":2.74,"v":65},{"s":2002,"m":2.84,"v":67},{"s":2002,"m":2.89,"v":70},{"s":2002,"m":3.02,"v":72},{"s":2002,"m":3.15,"v":70},{"s":2002,"m":3.28,"v":68},{"s":2002,"m":3.38,"v":70},{"s":2002,"m":3.51,"v":70},{"s":2002,"m":3.61,"v":72},{"s":2002,"m":3.76,"v":75},{"s":2002,"m":3.86,"v":80},{"s":2002,"m":3.97,"v":77},{"s":2002,"m":4.07,"v":78},{"s":2002,"m":4.17,"v":82},{"s":2002,"m":4.28,"v":80},{"s":2002,"m":4.38,"v":83},{"s":2002,"m":4.48,"v":80},{"s":2002,"m":4.56,"v":85},{"s":2002,"m":4.64,"v":93},{"s":2002,"m":4.71,"v":100},{"s":2002,"m":4.79,"v":102},{"s":2002,"m":4.87,"v":107},{"s":2002,"m":4.94,"v":102},{"s":2002,"m":5.02,"v":107},{"s":2002,"m":5.12,"v":102},{"s":2002,"m":5.23,"v":97},{"s":2002,"m":5.3,"v":95},{"s":2002,"m":5.4,"v":88},{"s":2002,"m":5.51,"v":93},{"s":2002,"m":5.61,"v":98},{"s":2002,"m":5.74,"v":100},{"s":2002,"m":5.87,"v":94},{"s":2002,"m":6.0,"v":95},{"s":2002,"m":6.12,"v":90},{"s":2002,"m":6.23,"v":98},{"s":2002,"m":6.3,"v":100},{"s":2002,"m":6.4,"v":97},{"s":2002,"m":6.51,"v":92},{"s":2002,"m":6.61,"v":88},{"s":2002,"m":6.71,"v":88},{"s":2002,"m":6.79,"v":73},{"s":2002,"m":6.87,"v":73},{"s":2002,"m":6.94,"v":75},{"s":2002,"m":7.05,"v":78},{"s":2002,"m":7.15,"v":80},{"s":2002,"m":7.25,"v":83},{"s":2002,"m":7.35,"v":85},{"s":2002,"m":7.51,"v":85},{"s":2002,"m":7.61,"v":82},{"s":2002,"m":7.71,"v":83},{"s":2002,"m":7.82,"v":85},{"s":2002,"m":7.92,"v":93},{"s":2002,"m":8.02,"v":94},{"s":2002,"m":8.17,"v":96},{"s":2002,"m":8.28,"v":96},{"s":2002,"m":8.38,"v":98},{"s":2002,"m":8.48,"v":99},{"s":2002,"m":8.58,"v":97},{"s":2002,"m":8.69,"v":94},{"s":2002,"m":8.79,"v":92},{"s":2002,"m":8.89,"v":89},{"s":2002,"m":9.0,"v":88},{"s":2002,"m":9.1,"v":86},{"s":2002,"m":9.2,"v":82},{"s":2002,"m":9.3,"v":80},{"s":2002,"m":9.41,"v":78},{"s":2002,"m":9.51,"v":79},{"s":2002,"m":9.61,"v":76},{"s":2002,"m":9.71,"v":78},{"s":2002,"m":9.87,"v":81},{"s":2002,"m":9.99,"v":84},{"s":2002,"m":10.12,"v":87},{"s":2002,"m":10.28,"v":87},{"s":2002,"m":10.43,"v":87},{"s":2002,"m":10.58,"v":84},{"s":2002,"m":10.74,"v":83},{"s":2002,"m":10.89,"v":83},{"s":2002,"m":11.04,"v":82},{"s":2002,"m":11.15,"v":88},{"s":2002,"m":11.28,"v":90},{"s":2002,"m":11.38,"v":92},{"s":2002,"m":11.51,"v":100},{"s":2002,"m":11.66,"v":103},{"s":2002,"m":11.76,"v":103},{"s":2002,"m":11.84,"v":108},{"s":2002,"m":12.0,"v":105},
{"s":2001,"m":0.02,"v":23},{"s":2001,"m":0.12,"v":23},{"s":2001,"m":0.17,"v":27},{"s":2001,"m":0.28,"v":25},{"s":2001,"m":0.38,"v":28},{"s":2001,"m":0.46,"v":30},{"s":2001,"m":0.53,"v":34},{"s":2001,"m":0.58,"v":38},{"s":2001,"m":0.66,"v":33},{"s":2001,"m":0.74,"v":35},{"s":2001,"m":0.84,"v":33},{"s":2001,"m":0.92,"v":35},{"s":2001,"m":0.98,"v":37},{"s":2001,"m":1.15,"v":35},{"s":2001,"m":1.3,"v":33},{"s":2001,"m":1.46,"v":33},{"s":2001,"m":1.56,"v":32},{"s":2001,"m":1.66,"v":34},{"s":2001,"m":1.76,"v":37},{"s":2001,"m":1.82,"v":42},{"s":2001,"m":1.89,"v":48},{"s":2001,"m":2.02,"v":47},{"s":2001,"m":2.12,"v":47},{"s":2001,"m":2.23,"v":53},{"s":2001,"m":2.33,"v":52},{"s":2001,"m":2.43,"v":47},{"s":2001,"m":2.53,"v":42},{"s":2001,"m":2.64,"v":43},{"s":2001,"m":2.74,"v":42},{"s":2001,"m":2.84,"v":40},{"s":2001,"m":2.94,"v":38},{"s":2001,"m":3.02,"v":35},{"s":2001,"m":3.1,"v":40},{"s":2001,"m":3.2,"v":42},{"s":2001,"m":3.3,"v":42},{"s":2001,"m":3.38,"v":40},{"s":2001,"m":3.46,"v":44},{"s":2001,"m":3.56,"v":45},{"s":2001,"m":3.66,"v":43},{"s":2001,"m":3.76,"v":47},{"s":2001,"m":3.86,"v":50},{"s":2001,"m":3.97,"v":49},{"s":2001,"m":4.02,"v":52},{"s":2001,"m":4.12,"v":51},{"s":2001,"m":4.23,"v":50},{"s":2001,"m":4.3,"v":62},{"s":2001,"m":4.38,"v":60},{"s":2001,"m":4.46,"v":60},{"s":2001,"m":4.51,"v":72},{"s":2001,"m":4.56,"v":72},{"s":2001,"m":4.64,"v":87},{"s":2001,"m":4.69,"v":78},{"s":2001,"m":4.79,"v":68},{"s":2001,"m":4.89,"v":68},{"s":2001,"m":4.94,"v":62},{"s":2001,"m":5.0,"v":67},{"s":2001,"m":5.1,"v":71},{"s":2001,"m":5.17,"v":63},{"s":2001,"m":5.25,"v":73},{"s":2001,"m":5.35,"v":73},{"s":2001,"m":5.46,"v":78},{"s":2001,"m":5.56,"v":72},{"s":2001,"m":5.66,"v":68},{"s":2001,"m":5.76,"v":72},{"s":2001,"m":5.89,"v":63},{"s":2001,"m":6.02,"v":58},{"s":2001,"m":6.17,"v":60},{"s":2001,"m":6.33,"v":65},{"s":2001,"m":6.43,"v":63},{"s":2001,"m":6.53,"v":65},{"s":2001,"m":6.64,"v":65},{"s":2001,"m":6.76,"v":63},{"s":2001,"m":6.84,"v":60},{"s":2001,"m":6.92,"v":58},{"s":2001,"m":7.05,"v":60},{"s":2001,"m":7.15,"v":60},{"s":2001,"m":7.25,"v":65},{"s":2001,"m":7.35,"v":68},{"s":2001,"m":7.51,"v":70},{"s":2001,"m":7.66,"v":72},{"s":2001,"m":7.76,"v":70},{"s":2001,"m":7.87,"v":70},{"s":2001,"m":8.02,"v":67},{"s":2001,"m":8.07,"v":65},{"s":2001,"m":8.17,"v":63},{"s":2001,"m":8.28,"v":63},{"s":2001,"m":8.38,"v":72},{"s":2001,"m":8.48,"v":77},{"s":2001,"m":8.56,"v":81},{"s":2001,"m":8.64,"v":79},{"s":2001,"m":8.71,"v":73},{"s":2001,"m":8.79,"v":72},{"s":2001,"m":8.87,"v":77},{"s":2001,"m":8.97,"v":78},{"s":2001,"m":9.05,"v":80},{"s":2001,"m":9.12,"v":75},{"s":2001,"m":9.2,"v":75},{"s":2001,"m":9.3,"v":70},{"s":2001,"m":9.41,"v":67},{"s":2001,"m":9.51,"v":70},{"s":2001,"m":9.61,"v":67},{"s":2001,"m":9.71,"v":65},{"s":2001,"m":9.82,"v":67},{"s":2001,"m":9.92,"v":70},{"s":2001,"m":10.02,"v":72},{"s":2001,"m":10.12,"v":70},{"s":2001,"m":10.23,"v":72},{"s":2001,"m":10.33,"v":68},{"s":2001,"m":10.43,"v":63},{"s":2001,"m":10.53,"v":60},{"s":2001,"m":10.64,"v":58},{"s":2001,"m":10.74,"v":57},{"s":2001,"m":10.84,"v":63},{"s":2001,"m":10.94,"v":65},{"s":2001,"m":11.05,"v":66},{"s":2001,"m":11.2,"v":66},{"s":2001,"m":11.35,"v":62},{"s":2001,"m":11.51,"v":67},{"s":2001,"m":11.61,"v":65},{"s":2001,"m":11.76,"v":66},{"s":2001,"m":11.92,"v":65},{"s":2001,"m":12.0,"v":66},
{"s":2000,"m":0.02,"v":54},{"s":2000,"m":0.12,"v":57},{"s":2000,"m":0.23,"v":55},{"s":2000,"m":0.33,"v":53},{"s":2000,"m":0.43,"v":52},{"s":2000,"m":0.53,"v":53},{"s":2000,"m":0.61,"v":50},{"s":2000,"m":0.74,"v":45},{"s":2000,"m":0.84,"v":47},{"s":2000,"m":0.92,"v":47},{"s":2000,"m":1.0,"v":47},{"s":2000,"m":1.12,"v":48},{"s":2000,"m":1.28,"v":55},{"s":2000,"m":1.35,"v":64},{"s":2000,"m":1.51,"v":63},{"s":2000,"m":1.61,"v":62},{"s":2000,"m":1.71,"v":61},{"s":2000,"m":1.87,"v":50},{"s":2000,"m":2.02,"v":48},{"s":2000,"m":2.17,"v":53},{"s":2000,"m":2.33,"v":50},{"s":2000,"m":2.43,"v":47},{"s":2000,"m":2.53,"v":50},{"s":2000,"m":2.64,"v":47},{"s":2000,"m":2.79,"v":44},{"s":2000,"m":2.94,"v":42},{"s":2000,"m":3.1,"v":42},{"s":2000,"m":3.2,"v":40},{"s":2000,"m":3.35,"v":38},{"s":2000,"m":3.46,"v":37},{"s":2000,"m":3.61,"v":37},{"s":2000,"m":3.76,"v":37},{"s":2000,"m":3.92,"v":38},{"s":2000,"m":4.02,"v":37},{"s":2000,"m":4.07,"v":52},{"s":2000,"m":4.17,"v":47},{"s":2000,"m":4.28,"v":46},{"s":2000,"m":4.38,"v":44},{"s":2000,"m":4.48,"v":44},{"s":2000,"m":4.58,"v":42},{"s":2000,"m":4.69,"v":41},{"s":2000,"m":4.79,"v":39},{"s":2000,"m":4.87,"v":37},{"s":2000,"m":4.97,"v":33},{"s":2000,"m":5.05,"v":38},{"s":2000,"m":5.12,"v":43},{"s":2000,"m":5.23,"v":40},{"s":2000,"m":5.3,"v":37},{"s":2000,"m":5.43,"v":42},{"s":2000,"m":5.53,"v":38},{"s":2000,"m":5.66,"v":37},{"s":2000,"m":5.82,"v":35},{"s":2000,"m":5.92,"v":36},{"s":2000,"m":6.02,"v":33},{"s":2000,"m":6.17,"v":31},{"s":2000,"m":6.33,"v":30},{"s":2000,"m":6.48,"v":27},{"s":2000,"m":6.64,"v":24},{"s":2000,"m":6.79,"v":22},{"s":2000,"m":6.94,"v":22},{"s":2000,"m":7.1,"v":18},{"s":2000,"m":7.25,"v":19},{"s":2000,"m":7.35,"v":23},{"s":2000,"m":7.51,"v":23},{"s":2000,"m":7.66,"v":20},{"s":2000,"m":7.82,"v":20},{"s":2000,"m":7.97,"v":24},{"s":2000,"m":8.12,"v":25},{"s":2000,"m":8.28,"v":27},{"s":2000,"m":8.43,"v":25},{"s":2000,"m":8.58,"v":18},{"s":2000,"m":8.74,"v":17},{"s":2000,"m":8.87,"v":20},{"s":2000,"m":8.97,"v":17},{"s":2000,"m":9.07,"v":15},{"s":2000,"m":9.2,"v":12},{"s":2000,"m":9.3,"v":12},{"s":2000,"m":9.38,"v":13},{"s":2000,"m":9.51,"v":7},{"s":2000,"m":9.66,"v":6},{"s":2000,"m":9.79,"v":4},{"s":2000,"m":9.92,"v":6},{"s":2000,"m":10.0,"v":3},{"s":2000,"m":10.12,"v":4},{"s":2000,"m":10.28,"v":3},{"s":2000,"m":10.43,"v":1},{"s":2000,"m":10.56,"v":1},{"s":2000,"m":10.66,"v":3},{"s":2000,"m":10.74,"v":7},{"s":2000,"m":10.84,"v":11},{"s":2000,"m":10.94,"v":10},{"s":2000,"m":11.05,"v":13},{"s":2000,"m":11.17,"v":15},{"s":2000,"m":11.3,"v":14},{"s":2000,"m":11.4,"v":10},{"s":2000,"m":11.56,"v":8},{"s":2000,"m":11.66,"v":12},{"s":2000,"m":11.79,"v":10},{"s":2000,"m":11.92,"v":10},{"s":2000,"m":12.0,"v":8}
]},
"mark":{"type":"line","interpolate":"linear"},
"encoding":{
"x":{"field":"m","type":"quantitative","scale":{"domain":[0,12],"nice":false,"zero":false},
"axis":{"orient":"bottom","title":null,"values":[0,1,2,3,4,5,6,7,8,9,10,11,12],"labelExpr":"['Jan','Feb','Mar','Apr','May','Jun','Jul','Aug','Sep','Oct','Nov','Dec',''][datum.value]","labelAlign":"left","labelBaseline":"middle","labelOffset":4,"labelPadding":-8,"tickSize":16,"tickColor":"#999999","tickWidth":1,"domainColor":"#000000","domainWidth":1.5,"labelFontSize":13,"labelColor":"#222222","labelFont":"Liberation Sans","grid":false,"labelOverlap":false,"labelFlush":false,"labelBound":false}},
"y":{"field":"v","type":"quantitative","scale":{"domain":[0,478],"nice":false,"zero":false},"axis":null},
"color":{"field":"s","type":"nominal","scale":{"domain":[2000,2001,2002,2003,2004,2005,2006,2007,2008,2009,2010,2011,2012,2013,2014,2015,2016,2017,2018,2019],"range":["#ff40ff","#00ee00","#2233dd","#990000","#ff6600","#9450ff","#009999","#808080","#ff40ff","#00ee00","#2233dd","#990000","#ff6600","#9450ff","#009999","#808080","#ff40ff","#00ee00","#2233dd","#ff2020"]},
"legend":{"title":" ","titleOrient":"right","titlePadding":30,"titleFontSize":11,"orient":"none","legendX":-11,"legendY":-74,"columns":17,"direction":"horizontal","symbolType":"stroke","symbolSize":49,"symbolStrokeWidth":3,"labelFontSize":11.5,"labelFont":"Liberation Sans","labelColor":"#000000","labelOffset":3,"columnPadding":0,"rowPadding":9,"padding":12,"fillColor":"#e4e4e4","symbolOpacity":1}},
"strokeDash":{"field":"s","type":"nominal","scale":{"domain":[2000,2001,2002,2003,2004,2005,2006,2007,2008,2009,2010,2011,2012,2013,2014,2015,2016,2017,2018,2019],"range":[[2.2,1.8],[2.2,1.8],[2.2,1.8],[2.2,1.8],[2.2,1.8],[2.2,1.8],[2.2,1.8],[2.2,1.8],[2.2,1.8],[2.2,1.8],[2.2,1.8],[1,0],[1,0],[1,0],[1,0],[1,0],[1,0],[1,0],[1,0],[1,0]]},
"legend":{"title":" ","titleOrient":"right","titlePadding":30,"titleFontSize":11,"orient":"none","legendX":-11,"legendY":-74,"columns":17,"direction":"horizontal","symbolType":"stroke","symbolSize":49,"symbolStrokeWidth":3,"labelFontSize":11.5,"labelFont":"Liberation Sans","labelColor":"#000000","labelOffset":3,"columnPadding":0,"rowPadding":9,"padding":12,"fillColor":"#e4e4e4","symbolOpacity":1}},
"strokeWidth":{"field":"s","type":"ordinal","scale":{"domain":[2000,2001,2002,2003,2004,2005,2006,2007,2008,2009,2010,2011,2012,2013,2014,2015,2016,2017,2018,2019],"range":[2.3,2.3,2.3,2.3,2.3,2.3,2.3,2.3,2.3,2.3,2.3,1.4,1.4,1.4,1.4,1.4,1.4,1.4,1.4,1.4]},"legend":null}
}}
]
}
